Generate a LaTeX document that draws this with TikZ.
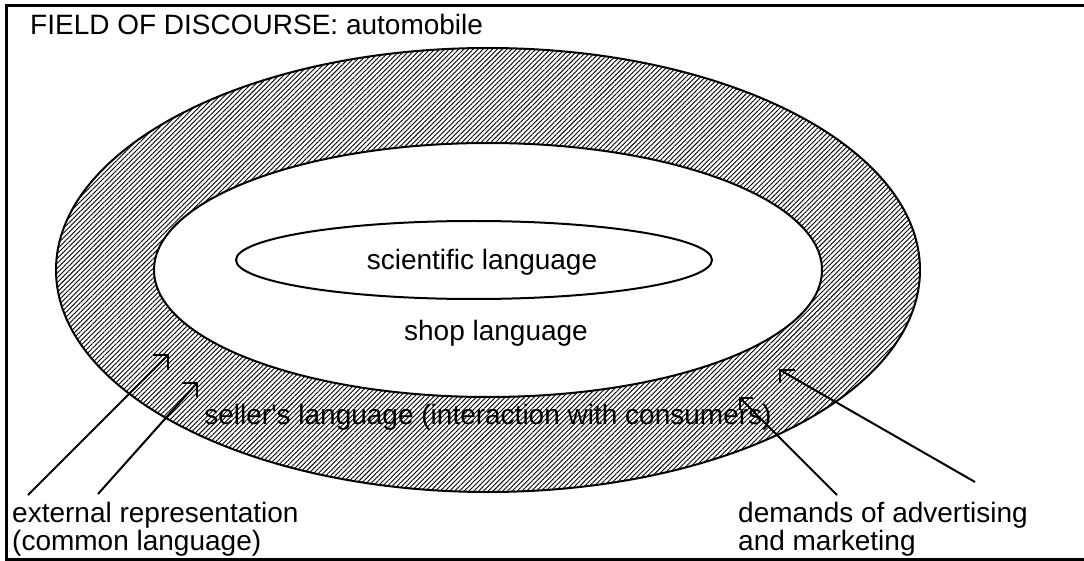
\documentclass[tikz,border=0pt]{standalone}
\usepackage{fontspec}
\setmainfont{Liberation Sans}[Ligatures=TeXOff]
\usetikzlibrary{shapes.geometric,patterns.meta}
\tikzset{
  ring/.style={ellipse, inner sep=0pt, line width=2pt, draw},
  hatch/.style={pattern={Lines[angle=45,distance=3.4pt,line width=0.9pt]}},
  conn/.style={line width=2pt},
  barb/.style={line width=2pt, line join=miter},
  lbl/.style={inner sep=0pt, font=\fontsize{28}{28}\selectfont},
  frame/.style={line width=3pt},
}
\begin{document}
\begin{tikzpicture}[x=1pt,y=-1pt]
\useasboundingbox (0,0) rectangle (1084,561);
\draw[frame] (1090,5.5) -- (6.5,5.5) -- (6.5,559.5) -- (1090,559.5);

\node[ring, hatch, minimum width=864pt, minimum height=444pt] (outer) at (488,270) {};
\node[ring, fill=white, minimum width=668pt, minimum height=254pt] (inner) at (488,270) {};
\node[ring, minimum width=476pt, minimum height=78pt] (sci) at (474,260) {};

\node[lbl, anchor=base west] (title) at (30,35) {FIELD OF DISCOURSE: automobile};
\node[lbl, anchor=base] (scitext) at (482,270) {scientific language};
\node[lbl, anchor=base] (shop) at (496,340) {shop language};
\node[lbl, anchor=base] (seller) at (488,424) {seller's language (interaction with consumers)};
\node[lbl, anchor=base west, align=left] (ext) at (12,550) {external representation\\(common language)};
\node[lbl, anchor=base west, align=left] (dem) at (738,550) {demands of advertising\\and marketing};

\coordinate (a1s) at (28,495); \coordinate (a1t) at (168,355);
\coordinate (a2s) at (98,494); \coordinate (a2t) at (197,383);
\coordinate (a3s) at (837,495); \coordinate (a3t) at (740,398);
\coordinate (a4s) at (975,482); \coordinate (a4t) at (780,370);

\draw[conn] (a1s) -- (a1t);
\draw[conn] (a2s) -- (a2t);
\draw[conn] (a3s) -- (a3t);
\draw[conn] (a4s) -- (a4t);
\draw[barb] ([xshift=-15pt]a1t) -- (a1t) -- ([yshift=-15pt]a1t);
\draw[barb] ([xshift=-15pt]a2t) -- (a2t) -- ([yshift=-14pt]a2t);
\draw[barb] ([xshift=13pt]a3t) -- (a3t) -- ([yshift=-12pt]a3t);
\draw[barb] ([xshift=15pt]a4t) -- (a4t) -- ([yshift=-13pt]a4t);
\end{tikzpicture}
\end{document}
